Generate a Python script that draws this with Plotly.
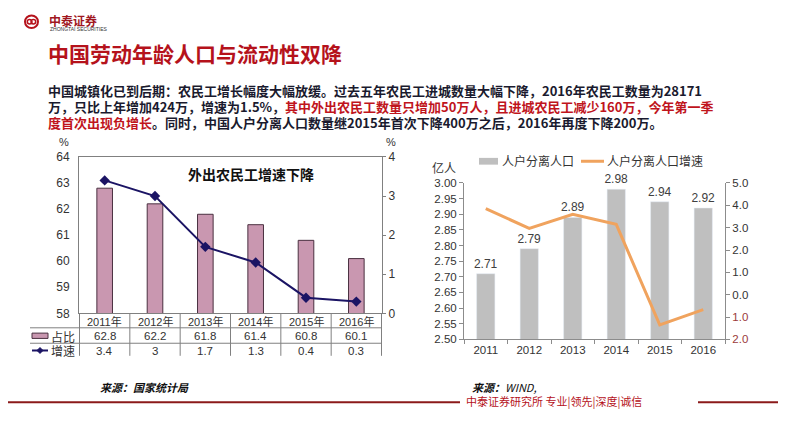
import plotly.graph_objects as go

# Layout positions below are given in pixels of the 786x423 reference picture.
# The page body keeps its default 8px margin, so the figure starts 8px in and
# is sized so the page fits the 786x423 window.
OFF = 8
W, H = 770, 405

# ---------------- data ----------------
left_years = ["2011年", "2012年", "2013年", "2014年", "2015年", "2016年"]
left_share = [62.8, 62.2, 61.8, 61.4, 60.8, 60.1]      # 占比 (%)
left_growth = [3.4, 3, 1.7, 1.3, 0.4, 0.3]             # 增速 (%)

right_years = ["2011", "2012", "2013", "2014", "2015", "2016"]
right_pop = [2.71, 2.79, 2.89, 2.98, 2.94, 2.92]       # 人户分离人口 (亿人)
right_growth = [3.85, 2.97, 3.6, 3.15, -1.35, -0.67]   # 人户分离人口增速 (%)

right_y2_vals = [5, 4, 3, 2, 1, 0, -1, -2]
right_y2_text = ["5.0", "4.0", "3.0", "2.0", "1.0", "0.0",
                 "<span style='color:#9b3b3b'>1.0</span>",
                 "<span style='color:#9b3b3b'>2.0</span>"]

def X(px):
    return (px - OFF) / W

def Y(py):
    return 1 - (py - OFF) / H

CJK = "Noto Sans CJK SC, Liberation Sans, sans-serif"
NUM = "Liberation Sans, Noto Sans CJK SC, sans-serif"
RED = "#b5121b"
NAVY = "#1a1a2e"
GREY_TXT = "#333333"

fig = go.Figure()

# ---------------- left chart ----------------
fig.add_trace(go.Bar(
    x=left_years, y=left_share, xaxis="x", yaxis="y",
    marker=dict(color="#c997b0", line=dict(color="#4a3040", width=1)),
    width=0.31, showlegend=False, hoverinfo="skip"))
fig.add_trace(go.Scatter(
    x=left_years, y=left_growth, xaxis="x", yaxis="y2", mode="lines+markers",
    line=dict(color="#1b1464", width=2),
    marker=dict(symbol="diamond", size=8, color="#1b1464"),
    showlegend=False, hoverinfo="skip"))

# ---------------- right chart ----------------
fig.add_trace(go.Bar(
    x=right_years, y=right_pop, xaxis="x2", yaxis="y3",
    marker=dict(color="#bfbfbf"), width=0.42,
    text=[f"{v:.2f}" for v in right_pop], textposition="outside",
    constraintext="none",
    textfont=dict(family=NUM, size=12, color="#404040"),
    cliponaxis=False, showlegend=False, hoverinfo="skip"))
fig.add_trace(go.Scatter(
    x=right_years, y=right_growth, xaxis="x2", yaxis="y4", mode="lines",
    line=dict(color="#f0a35e", width=3),
    showlegend=False, hoverinfo="skip"))

left_font = dict(family=NUM, size=12, color=GREY_TXT)
right_font = dict(family=NUM, size=11.5, color=GREY_TXT)

fig.update_layout(
    width=W, height=H,
    margin=dict(l=0, r=0, t=0, b=0),
    paper_bgcolor="white", plot_bgcolor="white",
    showlegend=False,
    xaxis=dict(domain=[X(79), X(382)], anchor="y", type="category",
               showline=True, linecolor="#808080", linewidth=1, mirror=True,
               showgrid=False, ticks="", showticklabels=False),
    yaxis=dict(domain=[Y(317), Y(155)], anchor="x", range=[58, 64], dtick=1,
               showline=True, linecolor="#808080", showgrid=False, zeroline=False,
               ticks="", tickfont=left_font, ticklabelstandoff=6),
    yaxis2=dict(domain=[Y(317), Y(155)], anchor="x", overlaying="y", side="right",
                range=[0, 4], dtick=1, showline=True, linecolor="#808080",
                showgrid=False, zeroline=False, ticks="outside", ticklen=3,
                tickcolor="#808080", tickfont=left_font),
    xaxis2=dict(domain=[X(464), X(725)], anchor="y3", type="category",
                showline=True, linecolor="#8c8c8c", showgrid=False,
                ticks="outside", tickson="boundaries", ticklen=4, tickcolor="#8c8c8c",
                tickfont=right_font),
    yaxis3=dict(domain=[Y(344), Y(182)], anchor="x2", range=[2.5, 3.0], dtick=0.05,
                tickformat=".2f", showline=True, linecolor="#8c8c8c",
                showgrid=False, zeroline=False, ticks="outside", ticklen=4,
                tickcolor="#8c8c8c", tickfont=right_font),
    yaxis4=dict(domain=[Y(344), Y(182)], anchor="x2", overlaying="y3", side="right",
                range=[-2, 5], tickvals=right_y2_vals, ticktext=right_y2_text,
                showline=True, linecolor="#8c8c8c", showgrid=False, zeroline=False,
                ticks="outside", ticklen=4, tickcolor="#8c8c8c", tickfont=right_font),
)

shapes = []
ann = []

def text(px, py, t, size, color, family=CJK, xa="center", ya="middle"):
    ann.append(dict(x=X(px), y=Y(py), xref="paper", yref="paper",
                    xanchor=xa, yanchor=ya, showarrow=False, text=t,
                    font=dict(family=family, size=size, color=color)))

def hline(x0, x1, py, color, width):
    shapes.append(dict(type="line", xref="paper", yref="paper",
                       x0=X(x0), x1=X(x1), y0=Y(py), y1=Y(py),
                       line=dict(color=color, width=width)))

# ---- header / logo (kept just inside the drawable area) ----
shapes.append(dict(type="circle", xref="paper", yref="paper",
                   x0=X(25), x1=X(38), y0=Y(21.5), y1=Y(8.5),
                   line=dict(color=RED, width=2)))
shapes.append(dict(type="circle", xref="paper", yref="paper",
                   x0=X(27.3), x1=X(32), y0=Y(17.3), y1=Y(12.7),
                   line=dict(color=RED, width=1.5)))
shapes.append(dict(type="circle", xref="paper", yref="paper",
                   x0=X(31), x1=X(35.7), y0=Y(17.3), y1=Y(12.7),
                   line=dict(color=RED, width=1.5)))
text(47, 14, "<b>中泰证券</b>", 12, "#a0171f", xa="left")
text(48, 22.5, "ZHONGTAI SECURITIES", 5, GREY_TXT, family=NUM, xa="left")

# title
text(46, 47, "<b>中国劳动年龄人口与流动性双降</b>", 21, RED, xa="left")

# paragraph
R = "#c0141c"
def red(t):
    return "<span style='color:" + R + "'>" + t + "</span>"

para = [
    "<b>中国城镇化已到后期：农民工增长幅度大幅放缓。过去五年农民工进城数量大幅下降，2016年农民工数量为28171</b>",
    "<b>万，只比上年增加424万，增速为1.5%，" + red("其中外出农民工数量只增加50万人，且进城农民工减少160万，今年第一季") + "</b>",
    "<b>" + red("度首次出现负增长") + "。同时，中国人户分离人口数量继2015年首次下降400万之后，2016年再度下降200万。</b>",
]
for i, t in enumerate(para):
    text(46, 86 + 16.5 * i, t, 13, NAVY, xa="left")

# ---- left chart extras ----
text(64, 140, "%", 11, GREY_TXT, family=NUM)
text(391, 140, "%", 11, GREY_TXT, family=NUM)
text(251, 173, "<b>外出农民工增速下降</b>", 14, "#111111")

# table grid
for ry in [332, 348]:
    hline(30, 382, ry, "#808080", 1)
for k in range(len(left_years) + 1):
    shapes.append(dict(type="line", xref="x", yref="paper",
                       x0=k - 0.5, x1=k - 0.5, y0=Y(317), y1=Y(361),
                       line=dict(color="#808080", width=1)))
for i, yr in enumerate(left_years):
    ann.append(dict(x=yr, y=Y(325), xref="x", yref="paper", xanchor="center",
                    yanchor="middle", showarrow=False, text=yr,
                    font=dict(family=NUM, size=11, color=GREY_TXT)))
    ann.append(dict(x=yr, y=Y(340.5), xref="x", yref="paper", xanchor="center",
                    yanchor="middle", showarrow=False, text=f"{left_share[i]:.1f}",
                    font=dict(family=NUM, size=11.5, color=GREY_TXT)))
    ann.append(dict(x=yr, y=Y(356), xref="x", yref="paper", xanchor="center",
                    yanchor="middle", showarrow=False, text=f"{left_growth[i]:g}",
                    font=dict(family=NUM, size=11.5, color=GREY_TXT)))
# table legend swatches
shapes.append(dict(type="rect", xref="paper", yref="paper",
                   x0=X(32), x1=X(48), y0=Y(343), y1=Y(337.5),
                   fillcolor="#c997b0", line=dict(color="#4a3040", width=1)))
text(49, 340.5, "占比", 12, GREY_TXT, xa="left")
hline(32, 48, 355.5, "#1b1464", 2)
shapes.append(dict(type="path", xref="paper", yref="paper",
                   path=f"M {X(40)} {Y(352.5)} L {X(43)} {Y(355.5)} L {X(40)} {Y(358.5)} L {X(37)} {Y(355.5)} Z",
                   fillcolor="#1b1464", line=dict(color="#1b1464", width=1)))
text(49, 356, "增速", 12, GREY_TXT, xa="left")

# ---- right chart extras ----
text(444, 166, "亿人", 12, GREY_TXT)
shapes.append(dict(type="rect", xref="paper", yref="paper",
                   x0=X(479), x1=X(498), y0=Y(163), y1=Y(156),
                   fillcolor="#bfbfbf", line=dict(width=0)))
text(500, 159, "人户分离人口", 12, GREY_TXT, xa="left")
hline(581, 604, 159.5, "#f0a35e", 3)
text(605, 159, "人户分离人口增速", 12, GREY_TXT, xa="left")

# ---- sources ----
text(98, 393, "<b><i>来源：国家统计局</i></b>", 11, "#111111", xa="left")
text(470, 393, "<b><i>来源：</i></b><i>WIND,</i>", 11, "#111111", xa="left")

# ---- footer ----
hline(0, 460, 409, "#8b1a1a", 2)
text(464, 408, "中泰证券研究所 专业|领先|深度|诚信", 11, "#b5121b", xa="left")
hline(698, 786, 409, "#8b1a1a", 2)

fig.update_layout(shapes=shapes, annotations=ann)
fig.write_html("out.html")
